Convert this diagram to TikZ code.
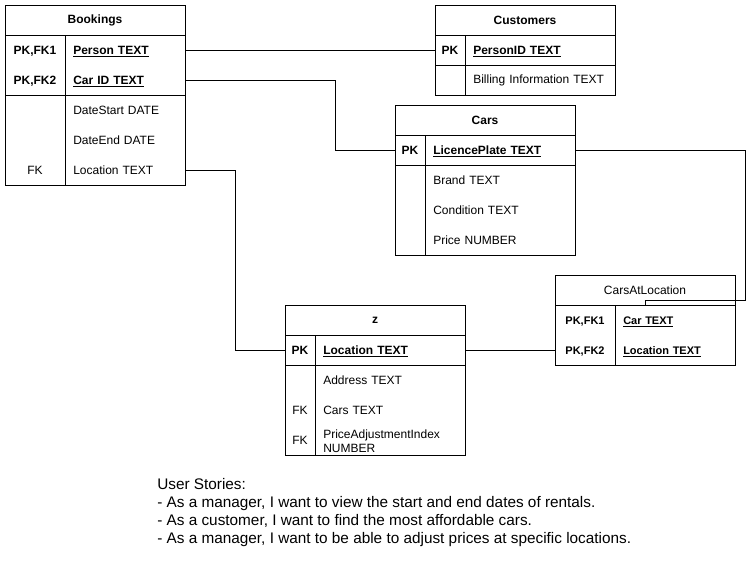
\documentclass[tikz,border=0pt]{standalone}
\usepackage{fontspec}
\setmainfont{Liberation Sans}
\usepackage{tikz}

\tikzset{
  tbl/.style={line width=.75pt},
  head/.style={font=\fontsize{9}{11}\selectfont\bfseries},
  keycol/.style={font=\fontsize{9}{11}\selectfont\bfseries, inner sep=0pt, minimum width=#1, text height=6.5pt, text depth=0pt},
  fieldcol/.style={anchor=west, font=\fontsize{9}{11}\selectfont, inner xsep=6pt, inner ysep=0pt, align=left, text width=#1},
  keyfield/.style={fieldcol=#1, font=\fontsize{9}{11}\selectfont\bfseries, text height=6.5pt, text depth=0pt},
}

\begin{document}
\begin{tikzpicture}[x=.75pt,y=-.75pt]
\useasboundingbox (0,0) rectangle (752,561);

% Bookings
\draw[tbl] (5,5) rectangle (185,185);
\draw[tbl] (5,35) -- (185,35) (5,95) -- (185,95) (65,35) -- (65,185);
\node[head] (bk) at (95,20) {Bookings};
\node[keycol=45pt] (bkK1) at (35,50) {PK,FK1};
\node[keycol=45pt] (bkK2) at (35,80) {PK,FK2};
\node[keycol=45pt,font=\fontsize{9}{11}\selectfont] (bkK5) at (35,170) {FK};
\node[keyfield=78pt] (bkPerson) at (65,50) {\underline{Person TEXT}};
\node[keyfield=78pt] (bkCar) at (65,80) {\underline{Car ID TEXT}};
\node[fieldcol=78pt] (bkStart) at (65,110) {DateStart DATE};
\node[fieldcol=78pt] (bkEnd) at (65,140) {DateEnd DATE};
\node[fieldcol=78pt] (bkLoc) at (65,170) {Location TEXT};

% Customers
\draw[tbl] (435,5) rectangle (615,95);
\draw[tbl] (435,35) -- (615,35) (435,65) -- (615,65) (465,35) -- (465,95);
\node[head] (cu) at (525,20) {Customers};
\node[keycol=22.5pt] (cuK1) at (450,50) {PK};
\node[keyfield=100.5pt] (cuPerson) at (465,50) {\underline{PersonID TEXT}};
\node[fieldcol=100.5pt] (cuBilling) at (465,80) {Billing Information TEXT};

% Cars
\draw[tbl] (395,105) rectangle (575,255);
\draw[tbl] (395,135) -- (575,135) (395,165) -- (575,165) (425,135) -- (425,255);
\node[head] (ca) at (485,120) {Cars};
\node[keycol=22.5pt] (caK1) at (410,150) {PK};
\node[keyfield=100.5pt] (caPlate) at (425,150) {\underline{LicencePlate TEXT}};
\node[fieldcol=100.5pt] (caBrand) at (425,180) {Brand TEXT};
\node[fieldcol=100.5pt] (caCond) at (425,210) {Condition TEXT};
\node[fieldcol=100.5pt] (caPrice) at (425,240) {Price NUMBER};

% CarsAtLocation
\draw[tbl] (555,275) rectangle (735,365);
\draw[tbl] (555,305) -- (735,305) (615,305) -- (615,365);
\node[font=\fontsize{9}{11}\selectfont] (cal) at (645,290) {CarsAtLocation};
\node[keycol=45pt,font=\fontsize{8.25}{10}\selectfont\bfseries] (calK1) at (585,320) {PK,FK1};
\node[keycol=45pt,font=\fontsize{8.25}{10}\selectfont\bfseries] (calK2) at (585,350) {PK,FK2};
\node[keyfield=78pt,font=\fontsize{8.25}{10}\selectfont\bfseries] (calCar) at (615,320) {\underline{Car TEXT}};
\node[keyfield=78pt,font=\fontsize{8.25}{10}\selectfont\bfseries] (calLoc) at (615,350) {\underline{Location TEXT}};

% z
\draw[tbl] (285,305) rectangle (465,455);
\draw[tbl] (285,335) -- (465,335) (285,365) -- (465,365) (315,335) -- (315,455);
\node[head] (z) at (375,320) {z};
\node[keycol=22.5pt] (zK1) at (300,350) {PK};
\node[keycol=22.5pt,font=\fontsize{9}{11}\selectfont] (zK3) at (300,410) {FK};
\node[keycol=22.5pt,font=\fontsize{9}{11}\selectfont] (zK4) at (300,440) {FK};
\node[keyfield=100.5pt] (zLoc) at (315,350) {\underline{Location TEXT}};
\node[fieldcol=100.5pt] (zAddr) at (315,380) {Address TEXT};
\node[fieldcol=100.5pt] (zCars) at (315,410) {Cars TEXT};
\node[fieldcol=100.5pt,font=\fontsize{9}{10.5}\selectfont] (zIndex) at (315,441) {PriceAdjustmentIndex\\NUMBER};

% links
\coordinate (calBend) at (745,300);
\coordinate (calJoin) at (645,305);
\draw[tbl] (bkPerson.east) -- (cuK1.west);
\draw[tbl] (bkCar.east) -- ++(150,0) |- (caK1.west);
\draw[tbl] (caPlate.east) -| (calBend) -| (calJoin);
\draw[tbl] (bkLoc.east) -- ++(50,0) |- (zK1.west);
\draw[tbl] (zLoc.east) -- (calK2.west);

% user stories
\node[anchor=north west, inner sep=0pt, align=left, font=\fontsize{11.5}{13.5}\selectfont] (stories) at (157,478)
  {User Stories:\\
   - As a manager, I want to view the start and end dates of rentals.\\
   - As a customer, I want to find the most affordable cars.\\
   - As a manager, I want to be able to adjust prices at specific locations.};
\end{tikzpicture}
\end{document}
